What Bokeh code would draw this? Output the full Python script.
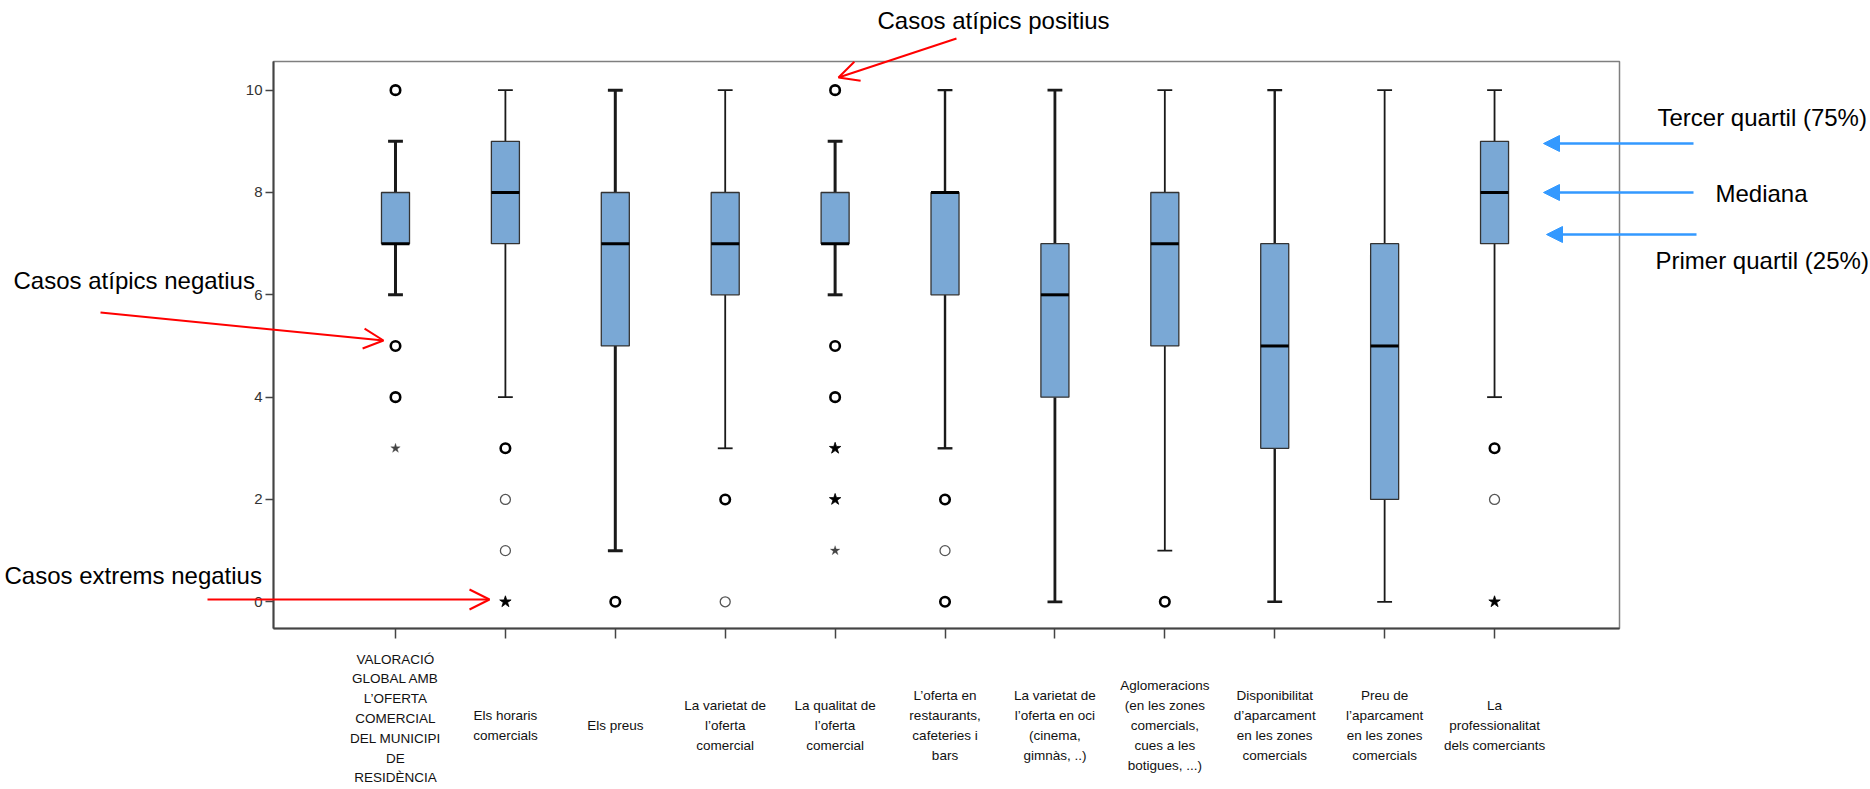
from bokeh.plotting import figure
from bokeh.models import (Range1d, FixedTicker, Label, Arrow, OpenHead, NormalHead,
                          ColumnDataSource)
from bokeh.core.properties import value
from bokeh.embed import file_html
from bokeh.resources import INLINE

# ---------------- data ----------------
categories = [
    "VALORACIÓ\nGLOBAL AMB\nL’OFERTA\nCOMERCIAL\nDEL MUNICIPI\nDE\nRESIDÈNCIA",
    "Els horaris\ncomercials",
    "Els preus",
    "La varietat de\nl’oferta\ncomercial",
    "La qualitat de\nl’oferta\ncomercial",
    "L’oferta en\nrestaurants,\ncafeteries i\nbars",
    "La varietat de\nl’oferta en oci\n(cinema,\ngimnàs, ..)",
    "Aglomeracions\n(en les zones\ncomercials,\ncues a les\nbotigues, ...)",
    "Disponibilitat\nd’aparcament\nen les zones\ncomercials",
    "Preu de\nl’aparcament\nen les zones\ncomercials",
    "La\nprofessionalitat\ndels comerciants",
]
q1 = [7, 7, 5, 6, 7, 6, 4, 5, 3, 2, 7]
median = [7, 8, 7, 7, 7, 8, 6, 7, 5, 5, 8]
q3 = [8, 9, 8, 8, 8, 8, 7, 8, 7, 7, 9]
whisker_low = [6, 4, 1, 3, 6, 3, 0, 1, 0, 0, 4]
whisker_high = [9, 10, 10, 10, 9, 10, 10, 10, 10, 10, 10]

# outliers (category index, value)
atypical_many_x = [0, 0, 0, 1, 2, 3, 4, 4, 4, 5, 5, 7, 10]
atypical_many_y = [10, 5, 4, 3, 0, 2, 10, 5, 4, 2, 0, 0, 3]
atypical_one_x = [1, 1, 3, 5, 10]
atypical_one_y = [2, 1, 0, 1, 2]
extreme_many_x = [1, 4, 4, 10]
extreme_many_y = [0, 3, 2, 0]
extreme_one_x = [0, 4]
extreme_one_y = [3, 1]

y_ticks = [0, 2, 4, 6, 8, 10]

annot_top = "Casos atípics positius"
annot_neg = "Casos atípics negatius"
annot_ext = "Casos extrems negatius"
annot_q3 = "Tercer quartil (75%)"
annot_med = "Mediana"
annot_q1 = "Primer quartil (25%)"

# ---------------- styles / layout ----------------
W, H = 1868, 787
L, R, T, B = 273, 1619, 61, 628          # frame edges in canvas pixels
XMIN, XMAX = -1.11, 11.137
YMIN, YMAX = -0.522, 10.56
BOX_FILL = "#7aa8d5"
BLUE = "#3399ff"
whisker_w = [3, 1.8, 3, 1.8, 3, 2.4, 2.8, 1.8, 2.4, 1.8, 1.8]
label_y = [718] + [725] * 10               # vertical centre of each category label (px)


def px_of_x(x):
    return L + (x - XMIN) / (XMAX - XMIN) * (R - L)


p = figure(width=W, height=H, output_backend="svg", toolbar_location=None,
           x_range=Range1d(XMIN, XMAX), y_range=Range1d(YMIN, YMAX),
           min_border_left=L, min_border_right=W - R,
           min_border_top=T, min_border_bottom=H - B)
p.grid.visible = False
p.background_fill_color = "white"
p.border_fill_color = "white"
p.outline_line_color = "#7f7f7f"
p.outline_line_width = 1.5

xs = list(range(len(categories)))
box_w = 0.255
cap_w = 0.135
src = ColumnDataSource(dict(
    x=xs, q1=q1, med=median, q3=q3, lo=whisker_low, hi=whisker_high, ww=whisker_w,
    xl=[x - box_w / 2 for x in xs], xr=[x + box_w / 2 for x in xs],
    cl=[x - cap_w / 2 for x in xs], cr=[x + cap_w / 2 for x in xs],
))

# whiskers
p.segment(x0="x", y0="q3", x1="x", y1="hi", source=src, line_color="#1a1a1a", line_width="ww")
p.segment(x0="x", y0="q1", x1="x", y1="lo", source=src, line_color="#1a1a1a", line_width="ww")
p.segment(x0="cl", y0="hi", x1="cr", y1="hi", source=src, line_color="#1a1a1a", line_width="ww")
p.segment(x0="cl", y0="lo", x1="cr", y1="lo", source=src, line_color="#1a1a1a", line_width="ww")
# boxes
p.vbar(x="x", width=box_w, bottom="q1", top="q3", source=src,
       fill_color=BOX_FILL, line_color="#333333", line_width=1.3)
# medians
p.segment(x0="xl", y0="med", x1="xr", y1="med", source=src, line_color="black", line_width=3)

# outliers
p.scatter(atypical_many_x, atypical_many_y, marker="circle", size=9.5,
          fill_color="white", line_color="black", line_width=2.6)
p.scatter(atypical_one_x, atypical_one_y, marker="circle", size=10,
          fill_color="white", line_color="#555555", line_width=1.3)
p.scatter(extreme_many_x, extreme_many_y, marker="star", size=12,
          fill_color="black", line_color="black", line_width=0.8)
p.scatter(extreme_one_x, extreme_one_y, marker="star", size=10,
          fill_color="#444444", line_color="#444444", line_width=0.3)

# axes
p.yaxis.ticker = FixedTicker(ticks=y_ticks)
p.yaxis.minor_tick_line_color = None
p.yaxis.major_tick_out = 8
p.yaxis.major_tick_in = 0
p.yaxis.major_tick_line_color = "#444444"
p.yaxis.major_tick_line_width = 1.5
p.yaxis.axis_line_color = "#444444"
p.yaxis.axis_line_width = 2
p.yaxis.major_label_text_font = "Liberation Sans"
p.yaxis.major_label_text_font_size = "15px"
p.yaxis.major_label_text_color = "#333333"
p.yaxis.major_label_standoff = 3

p.xaxis.ticker = FixedTicker(ticks=xs)
p.xaxis.minor_tick_line_color = None
p.xaxis.major_tick_out = 10
p.xaxis.major_tick_in = 0
p.xaxis.major_tick_line_color = "#444444"
p.xaxis.major_tick_line_width = 1.5
p.xaxis.axis_line_color = "#444444"
p.xaxis.axis_line_width = 2
p.xaxis.major_label_overrides = {x: "" for x in xs}

# ---------------- transparent overlay (canvas pixel coordinates) ----------------
ov = figure(width=W, height=H, output_backend="svg", toolbar_location=None,
            x_range=Range1d(0, W), y_range=Range1d(H, 0),
            x_axis_location=None, y_axis_location=None,
            min_border=0, min_border_left=0, min_border_right=0,
            min_border_top=0, min_border_bottom=0)
ov.grid.visible = False
ov.outline_line_color = None
ov.background_fill_alpha = 0
ov.border_fill_alpha = 0
ov.styles = {"position": "absolute", "top": "0px", "left": "0px", "z-index": "10"}

# category labels
cat_src = ColumnDataSource(dict(x=[px_of_x(x) for x in xs], y=label_y, text=categories))
ov.text(x="x", y="y", text="text", source=cat_src, text_align="center", text_baseline="middle",
        text_font=value("Liberation Sans"), text_font_size="13.5px",
        text_line_height=1.32, text_color="#111111")

# annotation texts
for txt, px_, py_ in [(annot_top, 877, 20), (annot_neg, 13, 280), (annot_ext, 4, 575),
                      (annot_q3, 1657, 117), (annot_med, 1715, 193), (annot_q1, 1655, 260)]:
    ov.add_layout(Label(x=px_, y=py_, text=txt, text_align="left",
                        text_baseline="alphabetic", text_font="Liberation Sans",
                        text_font_size="24px", text_color="black"))

# red arrows
for (x0, y0, x1, y1) in [(956, 38, 838, 77), (100, 312, 383, 340), (207, 599, 489, 599)]:
    ov.add_layout(Arrow(end=OpenHead(size=20, line_color="red", line_width=2),
                        x_start=x0, y_start=y0, x_end=x1, y_end=y1,
                        line_color="red", line_width=2))

# blue arrows
for (x0, y0, x1, y1) in [(1693, 143, 1543, 143), (1693, 192, 1543, 192), (1696, 234, 1546, 234)]:
    ov.add_layout(Arrow(end=NormalHead(size=16, fill_color=BLUE, line_color=BLUE),
                        x_start=x0, y_start=y0, x_end=x1, y_end=y1,
                        line_color=BLUE, line_width=2.5))

open("out.html", "w").write(file_html([p, ov], INLINE))
